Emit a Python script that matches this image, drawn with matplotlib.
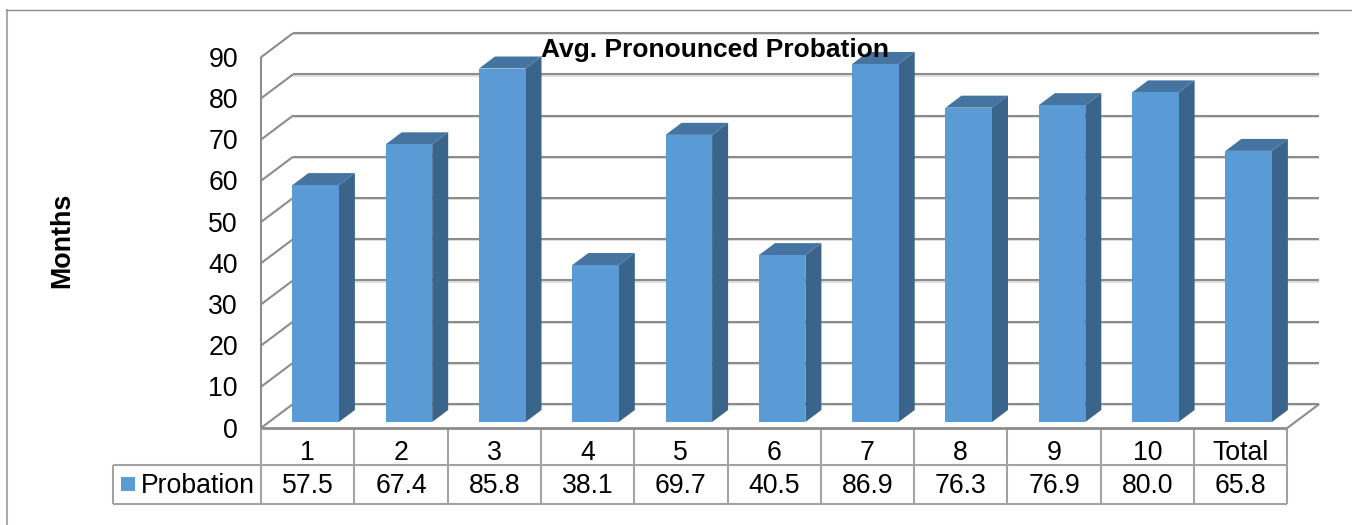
import matplotlib
matplotlib.use('Agg')
import matplotlib.pyplot as plt
from matplotlib.lines import Line2D
from matplotlib.patches import Polygon, Rectangle

plt.rcParams['font.family'] = ['Liberation Sans', 'DejaVu Sans']

categories = ['1', '2', '3', '4', '5', '6', '7', '8', '9', '10', 'Total']
probation = [57.5, 67.4, 85.8, 38.1, 69.7, 40.5, 86.9, 76.3, 76.9, 80.0, 65.8]
y_ticks = [0, 10, 20, 30, 40, 50, 60, 70, 80, 90]

W, H = 1352, 525
X0, Y0 = 261, 428          # pixel position of the front corner of the floor
CAT_W = 93.3               # pixels per category
UNIT = 4.12                # pixels per month
DX, DY = 32 / CAT_W, 24 / UNIT   # floor depth, in data units

GRID = '#8c8c8c'
SHADOW = '#d9d9d9'
TABLE = '#a3a3a3'
FRONT = '#5b9bd5'
TOP = '#44749f'
SIDE = '#3a6489'
FS = 19.2

fig = plt.figure(figsize=(W / 100, H / 100), dpi=100)
ax = fig.add_axes([0, 0, 1, 1])
ax.set_xlim(-X0 / CAT_W, (W - X0) / CAT_W)
ax.set_ylim((Y0 - H) / UNIT, Y0 / UNIT)
ax.axis('off')

n = len(categories)


def line(xs, ys, color=GRID, lw=1.5, z=1):
    ax.plot(xs, ys, color=color, lw=lw, zorder=z, solid_capstyle='butt')


# outer frame
fig.add_artist(Line2D([7 / W, 7 / W], [0, 1 - 10 / H], color='#ababab', lw=1.5))
fig.add_artist(Line2D([7 / W, 1], [1 - 10 / H, 1 - 10 / H], color='#8c8c8c', lw=1))

# back wall and left wall gridlines
shadow_off = 1.2 / UNIT
for v in y_ticks:
    line([DX, n + DX], [v + DY - shadow_off, v + DY - shadow_off], color=SHADOW, lw=1.2, z=0.5)
    line([DX, n + DX], [v + DY, v + DY])
    line([0, DX], [v, v + DY])
    ax.text(-23 / CAT_W, v - 2.5 / UNIT, str(v), ha='right', va='center', fontsize=FS, color='black')

# left wall edge and floor
line([0, 0], [0, 90])
line([n, n + DX], [0, DY])
line([0, n], [0, 0], lw=2, z=5)

# bars, from the values
bar_w = 46.5 / CAT_W
for i, val in enumerate(probation):
    left = i + 0.5 - bar_w / 2 + DX / 4
    right = left + bar_w
    base = DY / 4
    top = base + val
    ddx, ddy = DX / 2, DY / 2
    ax.add_patch(Polygon([(right, base), (right + ddx, base + ddy), (right + ddx, top + ddy), (right, top)],
                         facecolor=SIDE, edgecolor='none', zorder=3))
    ax.add_patch(Polygon([(left, top), (right, top), (right + ddx, top + ddy), (left + ddx, top + ddy)],
                         facecolor=TOP, edgecolor='none', zorder=3))
    ax.add_patch(Polygon([(left, base), (right, base), (right, top), (left, top)],
                         facecolor=FRONT, edgecolor='none', zorder=3))

# data table below the floor
row1 = (Y0 - 465) / UNIT
row2 = (Y0 - 504) / UNIT
leg_left = (113 - X0) / CAT_W
line([leg_left, n], [row1, row1], color=TABLE)
line([leg_left, n], [row2, row2], color=TABLE)
line([leg_left, leg_left], [row1, row2], color=TABLE)
for i in range(n + 1):
    line([i, i], [0, row2], color=TABLE)
for i, (cat, val) in enumerate(zip(categories, probation)):
    ax.text(i + 0.5, (Y0 - 453.5) / UNIT, cat, ha='center', va='center', fontsize=FS, color='black')
    ax.text(i + 0.5, (Y0 - 486) / UNIT, f'{val:.1f}', ha='center', va='center', fontsize=FS, color='black')

# legend key in the table
ax.add_patch(Rectangle(((121 - X0) / CAT_W, (Y0 - 491) / UNIT), 14 / CAT_W, 14 / UNIT,
                       facecolor=FRONT, edgecolor='none', zorder=3))
ax.text((141 - X0) / CAT_W, (Y0 - 486) / UNIT, 'Probation', ha='left', va='center', fontsize=FS, color='black')

ax.text((715 - X0) / CAT_W, (Y0 - 50) / UNIT, 'Avg. Pronounced Probation', ha='center', va='center',
        fontsize=19, fontweight='bold', color='black', zorder=10)
ax.text((62 - X0) / CAT_W, (Y0 - 240) / UNIT, 'Months', rotation=90, ha='center', va='center',
        fontsize=19.4, fontweight='bold', color='black')

fig.savefig('out.png', dpi=100)
